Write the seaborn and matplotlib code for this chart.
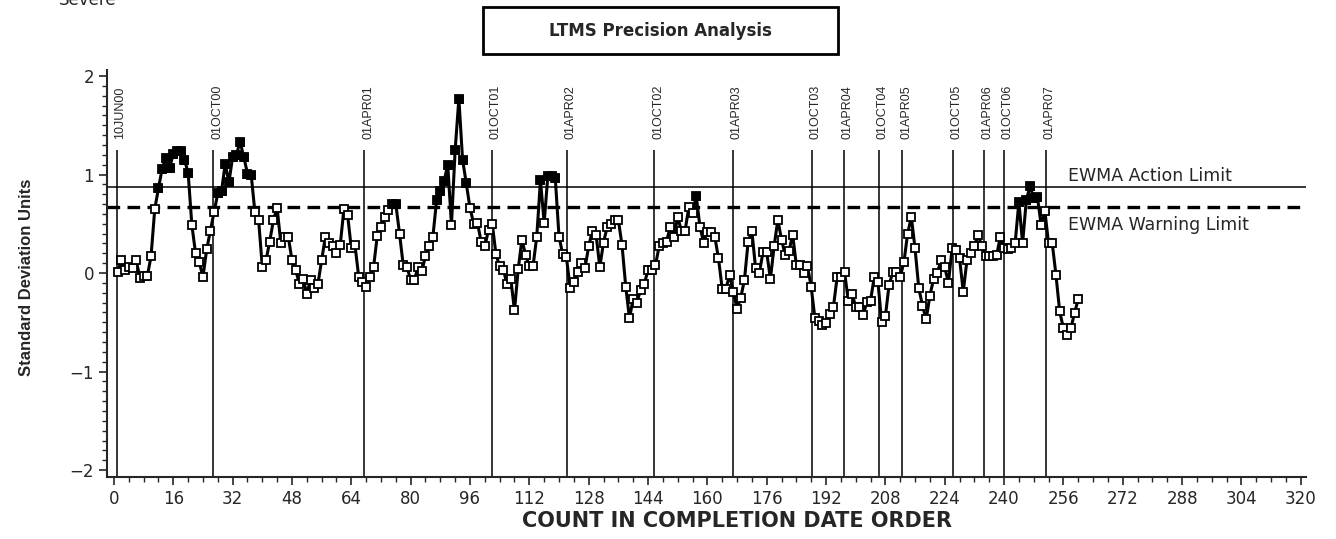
import matplotlib
matplotlib.use('Agg')
import matplotlib.pyplot as plt
import seaborn as sns
import pandas as pd
from matplotlib import font_manager
from matplotlib.patches import Rectangle
from matplotlib.ticker import MultipleLocator

# EWMA values in completion order (tests 1..260)
ewma = [
    0.01, 0.13, 0.03, 0.06, 0.05, 0.13, -0.05, -0.03, -0.03, 0.17,
    0.65, 0.86, 1.06, 1.17, 1.07, 1.21, 1.24, 1.24, 1.15, 1.02,
    0.49, 0.20, 0.11, -0.04, 0.24, 0.43,
    0.62, 0.81, 0.83, 1.11, 0.92, 1.18, 1.20, 1.33, 1.18, 1.01,
    1.00, 0.62, 0.54, 0.06, 0.13, 0.32, 0.54, 0.66, 0.30, 0.37,
    0.37, 0.13, 0.03, -0.11, -0.06, -0.21, -0.07, -0.15, -0.11, 0.13,
    0.37, 0.30, 0.27, 0.20, 0.28, 0.65, 0.59, 0.25, 0.28, -0.04,
    -0.09,
    -0.14, -0.04, 0.06, 0.38, 0.47, 0.57, 0.64, 0.70, 0.70, 0.40,
    0.08, 0.06, -0.07, -0.07, 0.06, 0.02, 0.17, 0.27, 0.37, 0.74,
    0.83, 0.93, 1.10, 0.49, 1.25, 1.77, 1.15, 0.91, 0.66, 0.50,
    0.51, 0.32, 0.27, 0.44,
    0.50, 0.19, 0.07, 0.03, -0.11, -0.06, -0.38, 0.04, 0.34, 0.18,
    0.07, 0.07, 0.37, 0.94, 0.51, 0.99, 0.98, 0.96, 0.37, 0.19,
    0.16,
    -0.15, -0.09, 0.01, 0.10, 0.05, 0.27, 0.43, 0.39, 0.06, 0.31,
    0.47, 0.50, 0.54, 0.54, 0.28, -0.14, -0.46, -0.26, -0.30, -0.17,
    -0.11, 0.03, 0.03,
    0.08, 0.27, 0.30, 0.32, 0.47, 0.37, 0.57, 0.43, 0.43, 0.67,
    0.61, 0.78, 0.47, 0.31, 0.42, 0.42, 0.37, 0.15, -0.16, -0.16,
    -0.02,
    -0.19, -0.36, -0.25, -0.07, 0.32, 0.43, 0.05, 0.00, 0.21, 0.21,
    -0.06, 0.27, 0.54, 0.34, 0.18, 0.22, 0.39, 0.08, 0.08, 0.00,
    0.07, -0.14,
    -0.46, -0.49, -0.53, -0.51, -0.42, -0.34, -0.04, -0.04,
    0.01, -0.28, -0.21, -0.34, -0.34, -0.43, -0.29, -0.28, -0.04, -0.09,
    -0.50, -0.44, -0.12, 0.01, 0.01, -0.04,
    0.11, 0.40, 0.57, 0.25, -0.15, -0.33, -0.47, -0.23, -0.06, 0.00,
    0.13, 0.06, -0.10, 0.25,
    0.23, 0.15, -0.19, 0.13, 0.20, 0.27, 0.39, 0.27,
    0.17, 0.17, 0.17, 0.18, 0.37, 0.25,
    0.24, 0.25, 0.31, 0.72, 0.30, 0.74, 0.88, 0.76, 0.77, 0.49,
    0.63,
    0.30, 0.30, -0.02, -0.39, -0.56, -0.63, -0.56, -0.41, -0.26,
]
count = list(range(1, len(ewma) + 1))

date_labels = ['10JUN00', '01OCT00', '01APR01', '01OCT01', '01APR02',
               '01OCT02', '01APR03', '01OCT03', '01APR04', '01OCT04',
               '01APR05', '01OCT05', '01APR06', '01OCT06', '01APR07']
date_pos = [0.7, 26.8, 67.5, 101.8, 122.1, 145.7, 166.8, 188.1, 196.9,
            206.2, 212.6, 226.3, 234.6, 240.0, 251.2]

action_limit = 0.87
warning_limit = 0.67

df = pd.DataFrame({'count': count, 'ewma': ewma})

sns.set_style('ticks')
names = {f.name for f in font_manager.fontManager.ttflist}
narrow = 'Liberation Sans Narrow' if 'Liberation Sans Narrow' in names else 'Liberation Sans'
plt.rcParams['font.family'] = ['DejaVu Sans']

fig = plt.figure(figsize=(13.36, 5.39), dpi=100)
ax = fig.add_axes([0.0803, 0.115, 0.8972, 0.755])

ymin, ymax = -2.07, 2.06
ax.vlines(date_pos, ymin, 1.25, color='black', lw=1.1, zorder=1)
for p, lab in zip(date_pos, date_labels):
    ax.text(p + 1.0, 1.36, lab, rotation=90, ha='center', va='bottom',
            fontfamily=narrow, fontsize=9)

ax.axhline(action_limit, color='black', lw=1.1, zorder=1)
ax.axhline(warning_limit, color='black', lw=2.4, dashes=(3.8, 2.2), zorder=1)

sns.lineplot(data=df, x='count', y='ewma', ax=ax, color='black', lw=2.2,
             marker='s', markersize=5.5, markerfacecolor='white',
             markeredgecolor='black', markeredgewidth=1.3, zorder=3)
high = df[df['ewma'] > warning_limit]
sns.scatterplot(data=high, x='count', y='ewma', ax=ax, marker='s', s=40,
                color='black', edgecolor='black', zorder=4)

ax.text(257.2, 0.99, 'EWMA Action Limit', ha='left', va='center', fontsize=12.5)
ax.text(257.2, 0.49, 'EWMA Warning Limit', ha='left', va='center', fontsize=12.5)

ax.set_xlim(-1.8, 321.4)
ax.set_ylim(ymin, ymax)
ax.xaxis.set_major_locator(MultipleLocator(16))
ax.xaxis.set_minor_locator(MultipleLocator(4))
ax.yaxis.set_major_locator(MultipleLocator(1))
ax.yaxis.set_minor_locator(MultipleLocator(0.1))
ax.tick_params(which='major', length=6, width=1.2, labelsize=12, direction='out')
ax.tick_params(which='minor', length=3.5, width=1.0, direction='out')
for s in ['top', 'right']:
    ax.spines[s].set_visible(False)
for s in ['left', 'bottom']:
    ax.spines[s].set_linewidth(1.5)
ax.set_xlabel('')
ax.set_ylabel('')

fig.text(27 / 1336, 1 - 277 / 539, 'Standard Deviation Units', rotation=90,
         ha='center', va='center', fontfamily=narrow, fontweight='bold', fontsize=12)
fig.text(737 / 1336, 1 - 521 / 539, 'COUNT IN COMPLETION DATE ORDER',
         ha='center', va='center', fontweight='heavy', fontsize=15)
fig.text(59 / 1336, 1 - 5 / 539, 'Severe', ha='left', va='baseline', fontsize=12)

fig.patches.append(Rectangle((483 / 1336, 1 - 54 / 539), 355 / 1336, 47 / 539,
                             transform=fig.transFigure, fill=False,
                             edgecolor='black', lw=2))
fig.text(660 / 1336, 1 - 31 / 539, 'LTMS Precision Analysis', ha='center',
         va='center', fontweight='bold', fontsize=12)

fig.savefig('out.png', dpi=100)
